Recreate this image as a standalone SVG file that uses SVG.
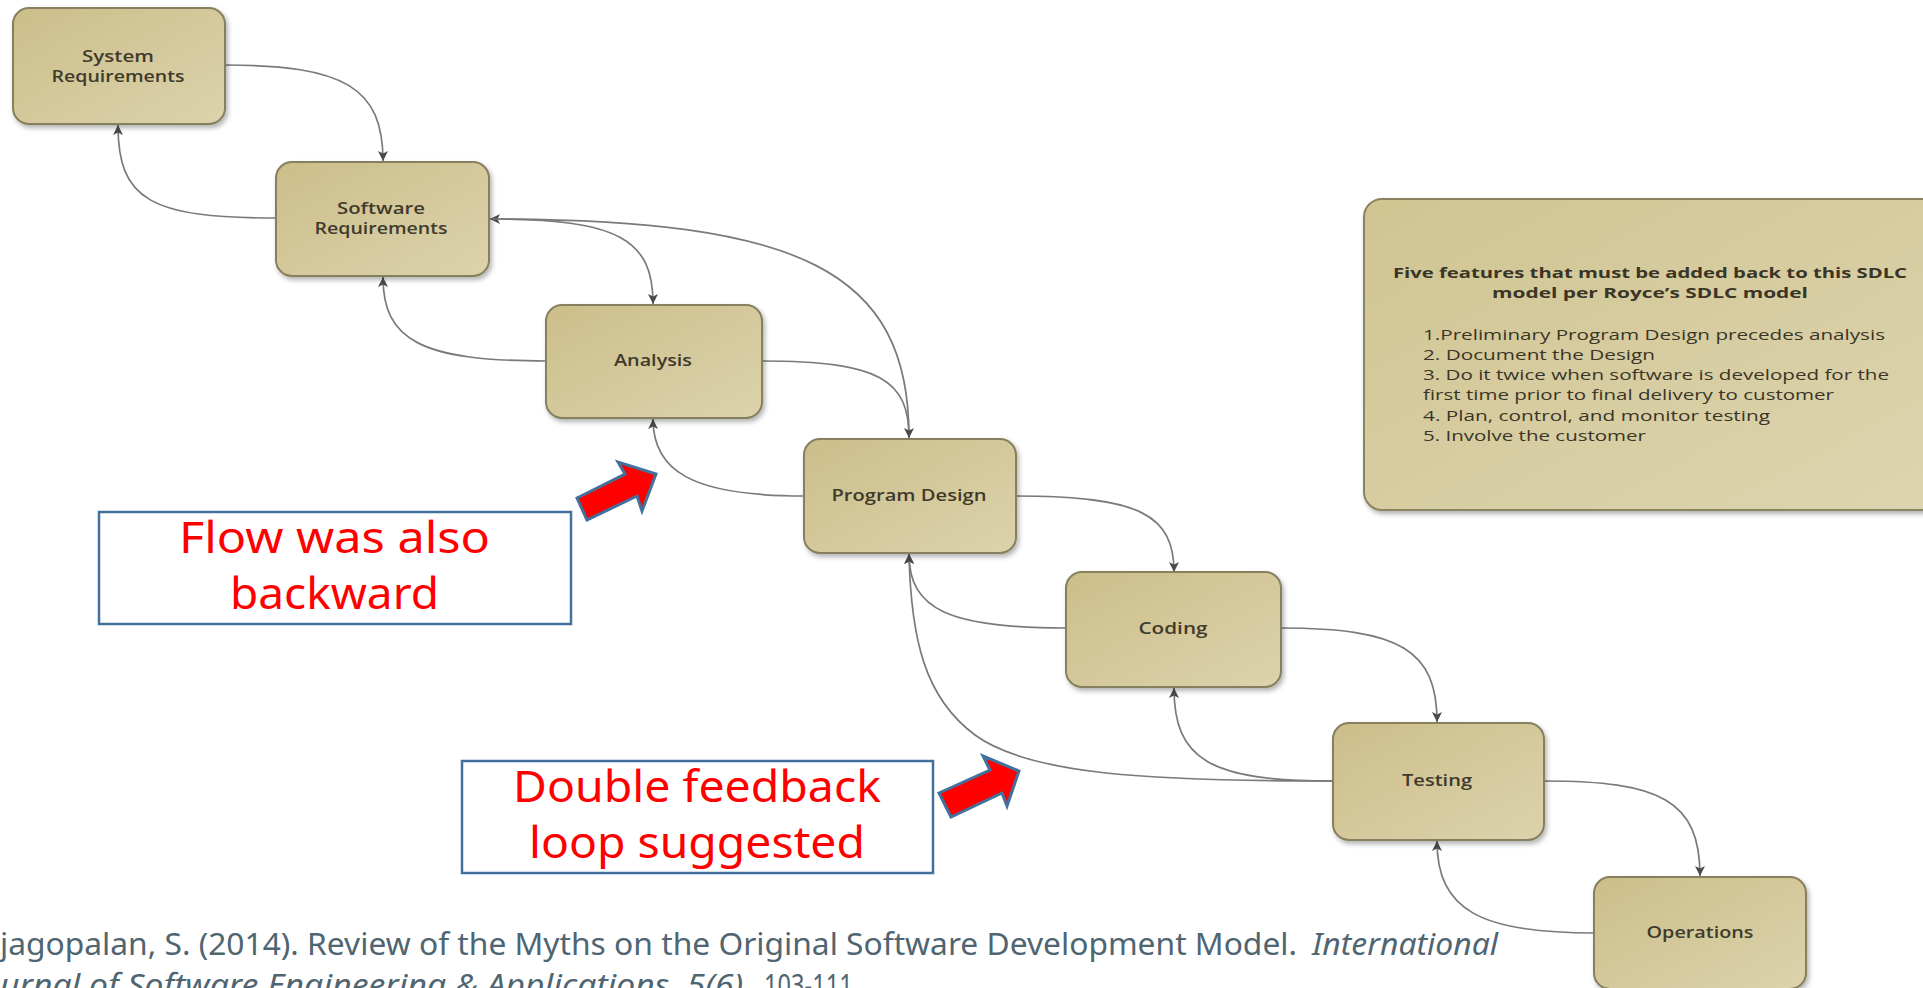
<svg xmlns="http://www.w3.org/2000/svg" width="1923" height="988" viewBox="0 0 1923 988">
<defs>
<linearGradient id="tan" x1="0" y1="0" x2="1" y2="1">
<stop offset="0" stop-color="#CCBE8A"/>
<stop offset="1" stop-color="#DCD3AC"/>
</linearGradient>
<linearGradient id="tan2" x1="0" y1="0" x2="1" y2="1">
<stop offset="0" stop-color="#D0C491"/>
<stop offset="1" stop-color="#DDD5B0"/>
</linearGradient>
<filter id="sh" x="-10%" y="-10%" width="125%" height="130%">
<feDropShadow dx="2" dy="3" stdDeviation="2.5" flood-color="#000" flood-opacity="0.3"/>
</filter>
<marker id="ah" viewBox="0 0 10 10" refX="10" refY="5" markerWidth="11" markerHeight="10" markerUnits="userSpaceOnUse" orient="auto">
<path d="M0,0 L10,5 L0,10 L2.5,5 z" fill="#4a4a4a"/>
</marker>
<style>
.node rect{fill:url(#tan);stroke:#86805F;stroke-width:2;filter:url(#sh)}
.node text{font-family:"Open Sans","Liberation Sans",sans-serif;font-size:17px;font-weight:600;fill:#3F3B2C;text-anchor:middle}
.conn path{fill:none;stroke:#7A7A7A;stroke-width:1.7;marker-end:url(#ah)}
.feat{font-family:"Open Sans","Liberation Sans",sans-serif;fill:#3A3527}
.callout rect{fill:#FFFFFF;stroke:#41719C;stroke-width:2.5}
.callout text{font-family:"Noto Sans","Liberation Sans",sans-serif;font-size:43px;fill:#FF0000;text-anchor:start}
.arrow{fill:#FF0000;stroke:#41719C;stroke-width:3;stroke-linejoin:miter}
.cite{font-family:"Noto Sans","Liberation Sans",sans-serif;font-size:30px;fill:#4F6571}
</style>
</defs>
<rect x="0" y="0" width="1923" height="988" fill="#FFFFFF"/>

<g id="connectors" class="conn">
<path d="M225,65 C345,65 383,88 383,161"/>
<path d="M277,218 C150,218 118,200 118,125"/>
<path d="M909,437 C909,270 800,219 490,219"/>
<path d="M490,219 C620,219 653,240 653,304"/>
<path d="M762,361 C880,361 909,380 909,438"/>
<path d="M547,361 C420,361 383,340 383,277"/>
<path d="M804,496 C690,496 653,470 653,419"/>
<path d="M1016,496 C1140,496 1174,515 1174,572"/>
<path d="M1066,628 C950,628 909,610 909,554"/>
<path d="M1333,781 C1150,781 1030,775 975,735 C925,698 911,640 909,554"/>
<path d="M1281,628 C1400,628 1437,650 1437,722"/>
<path d="M1333,781 C1210,781 1174,760 1174,688"/>
<path d="M1544,781 C1660,781 1700,800 1700,876"/>
<path d="M1594,933 C1480,933 1437,910 1437,841"/>
</g>

<g id="n-system" class="node">
<rect x="13" y="8" width="212" height="116" rx="16"/>
<text x="118" y="62" textLength="72" lengthAdjust="spacingAndGlyphs">System</text>
<text x="118" y="82" textLength="133" lengthAdjust="spacingAndGlyphs">Requirements</text>
</g>
<g id="n-software" class="node">
<rect x="276" y="162" width="213" height="114" rx="16"/>
<text x="381" y="214" textLength="88" lengthAdjust="spacingAndGlyphs">Software</text>
<text x="381" y="234" textLength="133" lengthAdjust="spacingAndGlyphs">Requirements</text>
</g>
<g id="n-analysis" class="node">
<rect x="546" y="305" width="216" height="113" rx="16"/>
<text x="653" y="366" textLength="78" lengthAdjust="spacingAndGlyphs">Analysis</text>
</g>
<g id="n-progdesign" class="node">
<rect x="804" y="439" width="212" height="114" rx="16"/>
<text x="909" y="501" textLength="155" lengthAdjust="spacingAndGlyphs">Program Design</text>
</g>
<g id="n-coding" class="node">
<rect x="1066" y="572" width="215" height="115" rx="16"/>
<text x="1173" y="634" textLength="69" lengthAdjust="spacingAndGlyphs">Coding</text>
</g>
<g id="n-testing" class="node">
<rect x="1333" y="723" width="211" height="117" rx="16"/>
<text x="1437" y="786" textLength="70" lengthAdjust="spacingAndGlyphs">Testing</text>
</g>
<g id="n-operations" class="node">
<rect x="1594" y="877" width="212" height="112" rx="16"/>
<text x="1700" y="938" textLength="107" lengthAdjust="spacingAndGlyphs">Operations</text>
</g>

<g id="n-features">
<rect x="1364" y="199" width="590" height="311" rx="18" fill="url(#tan2)" stroke="#8A845F" stroke-width="2" filter="url(#sh)"/>
<text class="feat" x="1650" y="278" font-size="15" font-weight="700" text-anchor="middle" textLength="514" lengthAdjust="spacingAndGlyphs">Five features that must be added back to this SDLC</text>
<text class="feat" x="1650" y="298" font-size="15" font-weight="700" text-anchor="middle" textLength="316" lengthAdjust="spacingAndGlyphs">model per Royce’s SDLC model</text>
<text class="feat" x="1423" y="340" font-size="15" textLength="462" lengthAdjust="spacingAndGlyphs">1.Preliminary Program Design precedes analysis</text>
<text class="feat" x="1423" y="360" font-size="15" textLength="232" lengthAdjust="spacingAndGlyphs">2. Document the Design</text>
<text class="feat" x="1423" y="380" font-size="15" textLength="466" lengthAdjust="spacingAndGlyphs">3. Do it twice when software is developed for the</text>
<text class="feat" x="1423" y="400" font-size="15" textLength="411" lengthAdjust="spacingAndGlyphs">first time prior to final delivery to customer</text>
<text class="feat" x="1423" y="421" font-size="15" textLength="347" lengthAdjust="spacingAndGlyphs">4. Plan, control, and monitor testing</text>
<text class="feat" x="1423" y="441" font-size="15" textLength="223" lengthAdjust="spacingAndGlyphs">5. Involve the customer</text>
</g>

<g id="callout-backward" class="callout">
<rect x="99" y="512" width="472" height="112"/>
<text x="179" y="553" textLength="311" lengthAdjust="spacingAndGlyphs">Flow was also</text>
<text x="230" y="609" textLength="209" lengthAdjust="spacingAndGlyphs">backward</text>
</g>
<g id="callout-double" class="callout">
<rect x="462" y="761" width="471" height="112"/>
<text x="513" y="802" textLength="368" lengthAdjust="spacingAndGlyphs">Double feedback</text>
<text x="529" y="858" textLength="336" lengthAdjust="spacingAndGlyphs">loop suggested</text>
</g>

<g id="red-arrow-1">
<polygon class="arrow" points="577,498 625,474 618,462 656,474 642,511 637,496 587,520"/>
</g>
<g id="red-arrow-2">
<polygon class="arrow" points="939,793 990,770 983,756 1019,771 1007,806 1002,793 951,817"/>
</g>

<g id="citation">
<text class="cite" x="0" y="955" textLength="1297" lengthAdjust="spacingAndGlyphs">jagopalan, S. (2014). Review of the Myths on the Original Software Development Model.</text>
<text class="cite" x="1312" y="955" font-style="italic" textLength="186" lengthAdjust="spacingAndGlyphs">International</text>
<text class="cite" x="0" y="996" font-style="italic" textLength="752" lengthAdjust="spacingAndGlyphs">urnal of Software Engineering &amp; Applications, 5(6),</text>
<text class="cite" x="764" y="996" textLength="95" lengthAdjust="spacingAndGlyphs">103-111.</text>
</g>
</svg>
